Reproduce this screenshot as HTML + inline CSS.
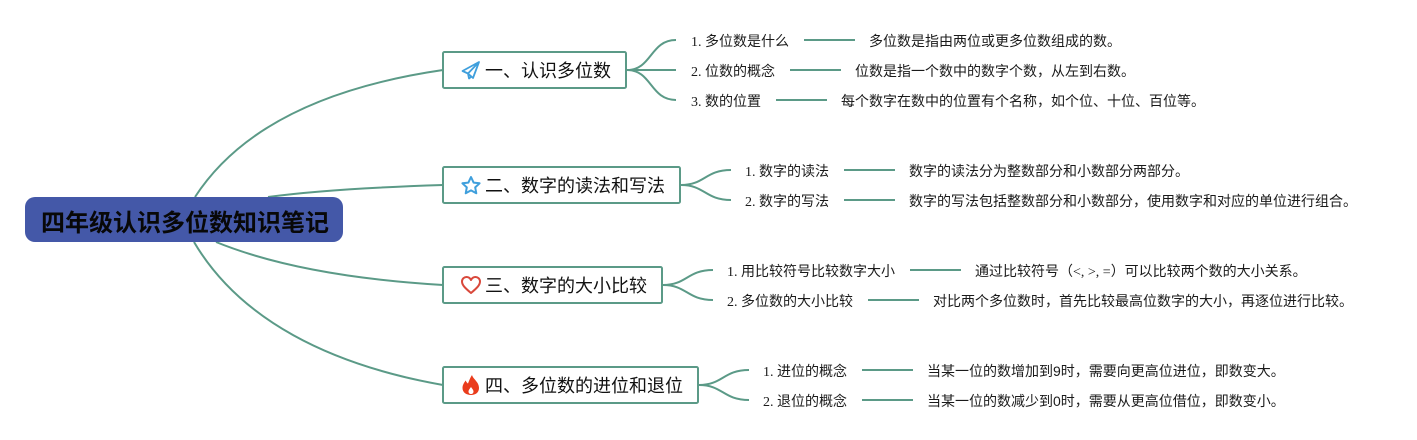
<!DOCTYPE html>
<html><head><meta charset="utf-8"><style>
html,body{margin:0;padding:0;background:#fff;width:1417px;height:440px;overflow:hidden}
svg{display:block}
text{font-family:"Liberation Serif","WenQuanYi Zen Hei","Noto Sans CJK SC",serif;fill:#1a1a1a}
.c{font-size:14px}
.d{font-size:14px;font-family:"Liberation Sans","Noto Sans CJK SC",sans-serif}
.s{font-family:"Liberation Serif",serif}
.t{font-size:18px;fill:#111}
.r{font-size:24px;font-weight:bold;fill:#080808}
.l{fill:none;stroke:#5b9a87;stroke-width:2}
.b{fill:#fff;stroke:#5b9a87;stroke-width:2}
</style></head><body>
<svg width="1417" height="440" viewBox="0 0 1417 440" xmlns="http://www.w3.org/2000/svg">
<path class="l" d="M195 197C245 120 340 85 443 70"/>
<path class="l" d="M268 197C320 190 380 187 443 185"/>
<path class="l" d="M216 242C280 268 360 280 443 285"/>
<path class="l" d="M194 242C240 320 330 365 443 385"/>
<rect x="25" y="197" width="318" height="45" rx="10" fill="#4458a8"/>
<text class="r" x="41" y="231">四年级认识多位数知识笔记</text>

<path class="l" d="M627 70C652 70 650 40 676 40M627 70H676M627 70C652 70 650 100 676 100"/>
<path class="l" d="M681 185C705 185 705 170 731 170M681 185C705 185 705 200 731 200"/>
<path class="l" d="M663 285C687 285 687 270 713 270M663 285C687 285 687 300 713 300"/>
<path class="l" d="M699 385C723 385 723 370 749 370M699 385C723 385 723 400 749 400"/>

<rect class="b" x="443" y="52" width="183" height="36" rx="1.5"/>
<rect class="b" x="443" y="167" width="237" height="36" rx="1.5"/>
<rect class="b" x="443" y="267" width="219" height="36" rx="1.5"/>
<rect class="b" x="443" y="367" width="255" height="36" rx="1.5"/>

<g fill="none" stroke="#3f9fdc" stroke-width="1.8" stroke-linejoin="round">
<path d="M479 62L462.500 71L468 73.500L473 78ZM479 62L468 73.500L469 78.500L472 76"/>
</g>
<path d="M471 177L473.600 182.600L479.600 183.300L475.200 187.400L476.300 193.300L471 190.400L465.700 193.300L466.800 187.400L462.400 183.300L468.400 182.600Z" fill="none" stroke="#3f9fdc" stroke-width="2" stroke-linejoin="round"/>
<path d="M471 293C465 288 462 285 462 281.500C462 278.500 464.500 277 466.500 277C468.500 277 470 278 471 280C472 278 473.500 277 475.500 277C477.500 277 480 278.500 480 281.500C480 285 477 288 471 293Z" fill="none" stroke="#d9483b" stroke-width="2" stroke-linejoin="round"/>
<path d="M472 375C473 379 479 382 479 388C479 392.500 475.500 395 471 395C466.500 395 462.500 392.500 462.500 388C462.500 384.500 464.500 382.500 465.500 380.500C466.500 382 467 383 468 383.500C469 381 470 378 472 375ZM471 387C469.500 389 468.500 390 468.500 391.500C468.500 393 469.500 394 471 394C472.500 394 473.500 393 473.500 391.500C473.500 390 472 388.500 471 387Z" fill="#ea3c1c" fill-rule="evenodd"/>

<text class="t" x="485" y="77">一、认识多位数</text>
<text class="t" x="485" y="192">二、数字的读法和写法</text>
<text class="t" x="485" y="292">三、数字的大小比较</text>
<text class="t" x="485" y="392">四、多位数的进位和退位</text>

<g class="l">
<path d="M804 40H855M790 70H841M776 100H827M844 170H895M844 200H895M910 270H961M868 300H919M862 370H913M862 400H913"/>
</g>

<text class="c" x="691" y="46">1. 多位数是什么</text>
<text class="c" x="691" y="76">2. 位数的概念</text>
<text class="c" x="691" y="106">3. 数的位置</text>
<text class="c" x="745" y="176">1. 数字的读法</text>
<text class="c" x="745" y="206">2. 数字的写法</text>
<text class="c" x="727" y="276">1. 用比较符号比较数字大小</text>
<text class="c" x="727" y="306">2. 多位数的大小比较</text>
<text class="c" x="763" y="376">1. 进位的概念</text>
<text class="c" x="763" y="406">2. 退位的概念</text>

<text class="d" x="869" y="46">多位数是指由两位或更多位数组成的数。</text>
<text class="d" x="855" y="76">位数是指一个数中的数字个数，从左到右数。</text>
<text class="d" x="841" y="106">每个数字在数中的位置有个名称，如个位、十位、百位等。</text>
<text class="d" x="909" y="176">数字的读法分为整数部分和小数部分两部分。</text>
<text class="d" x="909" y="206">数字的写法包括整数部分和小数部分，使用数字和对应的单位进行组合。</text>
<text class="d" x="975" y="276">通过比较符号（<tspan class="s">&lt;, &gt;, =</tspan>）可以比较两个数的大小关系。</text>
<text class="d" x="933" y="306">对比两个多位数时，首先比较最高位数字的大小，再逐位进行比较。</text>
<text class="d" x="927" y="376">当某一位的数增加到9时，需要向更高位进位，即数变大。</text>
<text class="d" x="927" y="406">当某一位的数减少到0时，需要从更高位借位，即数变小。</text>
</svg>
</body></html>
